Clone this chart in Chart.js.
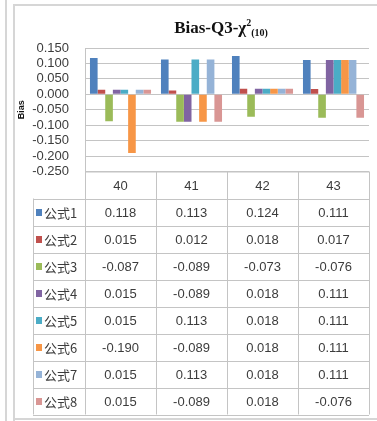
<!DOCTYPE html>
<html>
<head>
<meta charset="utf-8">
<script src="https://cdn.jsdelivr.net/npm/chart.js@4.4.1/dist/chart.umd.min.js"></script>
<style>
    html, body { margin: 0; padding: 0; background: #fff; overflow: hidden; }
    canvas { display: block; }
</style>
</head>
<body>
<canvas id="biasChart" width="377" height="421"></canvas>
<script>
// data
const categories = ['40', '41', '42', '43'];
const seriesNames = ['公式1', '公式2', '公式3', '公式4', '公式5', '公式6', '公式7', '公式8'];
const formula1 = [0.118, 0.113, 0.124, 0.111];
const formula2 = [0.015, 0.012, 0.018, 0.017];
const formula3 = [-0.087, -0.089, -0.073, -0.076];
const formula4 = [0.015, -0.089, 0.018, 0.111];
const formula5 = [0.015, 0.113, 0.018, 0.111];
const formula6 = [-0.190, -0.089, 0.018, 0.111];
const formula7 = [0.015, 0.113, 0.018, 0.111];
const formula8 = [0.015, -0.089, 0.018, -0.076];
const seriesColors = ['#4F81BD', '#C0504D', '#9BBB59', '#8064A2', '#4BACC6', '#F79646', '#95B3D7', '#D99694'];
const yMin = -0.25;
const yMax = 0.15;
const yStep = 0.05;

const allSeries = [formula1, formula2, formula3, formula4, formula5, formula6, formula7, formula8];

const GRID = '#c4c4c4';
const TEXT = '#3c3c3c';

// frame, title and the data table under the plot
const excelLook = {
    id: 'excelLook',
    beforeDraw(chart) {
        const ctx = chart.ctx;
        ctx.save();
        ctx.fillStyle = '#fff';
        ctx.fillRect(0, 0, chart.width, chart.height);
        ctx.strokeStyle = '#d6d6d6';
        ctx.lineWidth = 2;
        ctx.beginPath();
        ctx.moveTo(6, 0); ctx.lineTo(6, chart.height);
        ctx.moveTo(14, chart.height); ctx.lineTo(14, 5); ctx.lineTo(chart.width, 5);
        ctx.moveTo(14, 419); ctx.lineTo(chart.width, 419);
        ctx.stroke();
        ctx.restore();
    },
    afterDraw(chart) {
        const ctx = chart.ctx;
        const area = chart.chartArea;
        const x = chart.scales.x;
        ctx.save();

        // title with super/subscript
        const main = 'Bias-Q3-χ';
        ctx.font = 'bold 17px "Liberation Serif"';
        const wMain = ctx.measureText(main).width;
        ctx.font = 'bold 10px "Liberation Serif"';
        const wSup = ctx.measureText('2').width;
        const wSub = ctx.measureText('(10)').width;
        let tx = 221 - (wMain + wSup + wSub) / 2;
        const ty = 33;
        ctx.fillStyle = '#111';
        ctx.textBaseline = 'alphabetic';
        ctx.textAlign = 'left';
        ctx.font = 'bold 17px "Liberation Serif"';
        ctx.fillText(main, tx, ty);
        tx += wMain;
        ctx.font = 'bold 10px "Liberation Serif"';
        ctx.fillText('2', tx, ty - 7);
        tx += wSup;
        ctx.fillText('(10)', tx, ty + 3);

        // table geometry
        const catW = (area.right - area.left) / categories.length;
        const rowH = 27;
        const top = area.bottom;
        const headBottom = top + rowH;
        const bottom = headBottom + rowH * seriesNames.length;
        const legendLeft = 33;

        ctx.strokeStyle = GRID;
        ctx.lineWidth = 1;
        ctx.beginPath();
        // horizontal lines
        ctx.moveTo(area.left, top + 0.5); ctx.lineTo(area.right, top + 0.5);
        for (let r = 0; r <= seriesNames.length; r++) {
            const y = Math.round(headBottom + r * rowH) + 0.5;
            ctx.moveTo(legendLeft, y); ctx.lineTo(area.right, y);
        }
        // vertical lines
        ctx.moveTo(legendLeft + 0.5, headBottom); ctx.lineTo(legendLeft + 0.5, bottom);
        for (let c = 0; c <= categories.length; c++) {
            const xx = Math.round(x.getPixelForValue(c) - catW / 2) + 0.5;
            ctx.moveTo(xx, top); ctx.lineTo(xx, bottom);
        }
        ctx.stroke();

        // header
        ctx.fillStyle = TEXT;
        ctx.textAlign = 'center';
        ctx.textBaseline = 'middle';
        ctx.font = '13px "Liberation Sans"';
        categories.forEach((c, i) => {
            ctx.fillText(c, x.getPixelForValue(i), top + rowH / 2 + 1);
        });

        // rows
        seriesNames.forEach((name, r) => {
            const cy = headBottom + r * rowH + rowH / 2 + 1;
            ctx.fillStyle = seriesColors[r];
            ctx.fillRect(36, cy - 4, 6, 7);
            ctx.fillStyle = TEXT;
            ctx.textAlign = 'left';
            ctx.font = '13px "Noto Sans CJK SC"';
            ctx.fillText(name, 44, cy);
            ctx.textAlign = 'center';
            ctx.font = '13px "Liberation Sans"';
            allSeries[r].forEach((v, i) => {
                ctx.fillText(v.toFixed(3), x.getPixelForValue(i), cy);
            });
        });

        ctx.restore();
    }
};

const ctx = document.getElementById('biasChart').getContext('2d');
new Chart(ctx, {
    type: 'bar',
    data: {
        labels: categories,
        datasets: seriesNames.map((name, i) => ({
            label: name,
            data: allSeries[i],
            backgroundColor: seriesColors[i],
            borderWidth: 0,
            categoryPercentage: 0.86,
            barPercentage: 1
        }))
    },
    options: {
        responsive: false,
        animation: false,
        layout: {
            padding: { left: 13, right: 8, top: 48, bottom: 249.5 }
        },
        plugins: {
            legend: { display: false },
            title: { display: false },
            tooltip: { enabled: false }
        },
        scales: {
            x: {
                display: false
            },
            y: {
                min: yMin,
                max: yMax,
                afterFit(scale) { scale.width = 72; },
                ticks: {
                    stepSize: yStep,
                    autoSkip: false,
                    padding: 16,
                    color: TEXT,
                    font: { family: 'Liberation Sans', size: 13 },
                    callback: v => v.toFixed(3)
                },
                grid: {
                    color: GRID,
                    drawTicks: false
                },
                border: { color: GRID },
                title: {
                    display: true,
                    text: 'Bias',
                    color: '#111',
                    font: { family: 'Liberation Sans', size: 9, weight: 'bold' },
                    padding: { top: 3, bottom: 0 }
                }
            }
        }
    },
    plugins: [excelLook]
});
</script>
</body>
</html>
